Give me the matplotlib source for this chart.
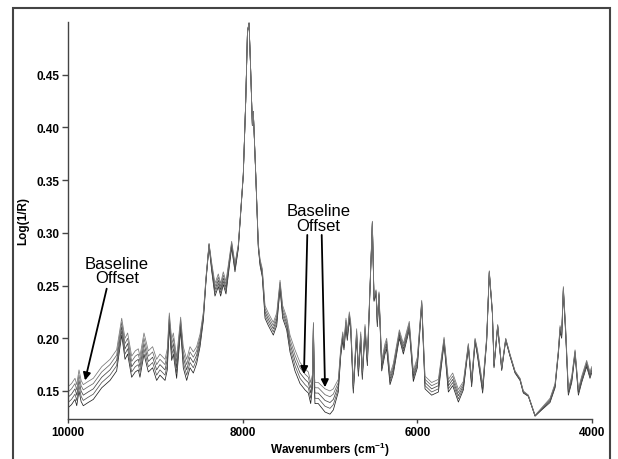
import numpy as np
import matplotlib
matplotlib.use("Agg")
import matplotlib.pyplot as plt
from matplotlib.patches import Rectangle

plt.rcParams['font.family'] = ['Liberation Sans', 'DejaVu Sans']
plt.rcParams['mathtext.fontset'] = 'custom'
plt.rcParams['mathtext.rm'] = 'Liberation Sans:bold'
plt.rcParams['mathtext.default'] = 'rm'

# Wavenumbers (cm-1), base (middle) spectrum Log(1/R), and per-point baseline spread
wavenumbers = [10000, 9960, 9920, 9900, 9874, 9850, 9825, 9770, 9710, 9614, 9519, 9443,
               9385, 9347, 9317, 9271, 9230, 9195, 9176, 9130, 9080, 9031, 8985, 8947,
               8889, 8863, 8840, 8813, 8794, 8756, 8710, 8680, 8641, 8603, 8565, 8527,
               8488, 8450, 8420, 8385, 8355, 8317, 8279, 8252, 8222, 8191, 8126, 8088,
               8050, 8011, 7993, 7965, 7945, 7927, 7910, 7889, 7878, 7850, 7821, 7801,
               7775, 7744, 7706, 7649, 7610, 7572, 7542, 7496, 7458, 7401, 7343, 7286,
               7248, 7221, 7200, 7190, 7180, 7172, 7134, 7057, 7000, 6962, 6905, 6877,
               6854, 6840, 6817, 6802, 6779, 6763, 6733, 6695, 6675, 6648, 6630, 6599,
               6572, 6542, 6515, 6496, 6473, 6458, 6439, 6408, 6370, 6351, 6313, 6275,
               6206, 6160, 6092, 6046, 6000, 5950, 5912, 5836, 5759, 5694, 5645, 5595,
               5530, 5473, 5416, 5378, 5339, 5313, 5252, 5206, 5176, 5141, 5122, 5080,
               5034, 4988, 4939, 4881, 4824, 4786, 4729, 4652, 4576, 4481, 4423, 4385,
               4366, 4347, 4328, 4301, 4271, 4232, 4194, 4156, 4118, 4061, 4023, 4004]

absorbance = [0.144, 0.147, 0.152, 0.146, 0.160, 0.150, 0.146, 0.149, 0.152, 0.163, 0.170, 0.179,
              0.211, 0.190, 0.195, 0.173, 0.178, 0.180, 0.173, 0.195, 0.178, 0.182, 0.170, 0.175,
              0.170, 0.180, 0.218, 0.189, 0.195, 0.172, 0.214, 0.182, 0.170, 0.182, 0.177, 0.184,
              0.198, 0.221, 0.256, 0.289, 0.268, 0.246, 0.255, 0.246, 0.257, 0.248, 0.289, 0.267,
              0.287, 0.333, 0.355, 0.425, 0.491, 0.499, 0.459, 0.402, 0.415, 0.355, 0.288, 0.272,
              0.262, 0.225, 0.218, 0.209, 0.218, 0.251, 0.225, 0.214, 0.195, 0.179, 0.167, 0.161,
              0.158, 0.148, 0.160, 0.213, 0.160, 0.148, 0.148, 0.141, 0.139, 0.142, 0.155, 0.187,
              0.202, 0.193, 0.215, 0.202, 0.221, 0.212, 0.152, 0.205, 0.168, 0.202, 0.165, 0.209,
              0.178, 0.247, 0.310, 0.237, 0.244, 0.215, 0.242, 0.174, 0.190, 0.195, 0.161, 0.171,
              0.204, 0.190, 0.212, 0.164, 0.177, 0.234, 0.158, 0.152, 0.155, 0.198, 0.155, 0.161,
              0.1455, 0.155, 0.193, 0.158, 0.198, 0.187, 0.152, 0.199, 0.263, 0.225, 0.174, 0.212,
              0.171, 0.199, 0.184, 0.168, 0.161, 0.149, 0.1455, 0.1265, 0.133, 0.141, 0.155, 0.187,
              0.209, 0.203, 0.247, 0.206, 0.149, 0.161, 0.187, 0.149, 0.161, 0.176, 0.165, 0.170]

spread = [0.005, 0.005, 0.005, 0.005, 0.005, 0.005, 0.005, 0.005, 0.005, 0.005, 0.005, 0.005,
          0.004, 0.005, 0.005, 0.005, 0.005, 0.005, 0.005, 0.005, 0.005, 0.005, 0.005, 0.005,
          0.005, 0.005, 0.003, 0.005, 0.005, 0.005, 0.003, 0.005, 0.005, 0.005, 0.005, 0.004,
          0.003, 0.002, 0.001, 0.0005, 0.002, 0.003, 0.003, 0.003, 0.003, 0.003, 0.0015, 0.002,
          0.001, 0.0005, 0.0003, 0.0, 0.0, 0.0, 0.0, 0.0, 0.0, 0.0003, 0.001, 0.0015,
          0.002, 0.003, 0.003, 0.003, 0.003, 0.002, 0.003, 0.003, 0.004, 0.005, 0.005, 0.005,
          0.005, 0.005, 0.003, 0.001, 0.003, 0.005, 0.005, 0.0055, 0.0055, 0.005, 0.003, 0.002,
          0.002, 0.002, 0.002, 0.002, 0.002, 0.002, 0.002, 0.002, 0.002, 0.002, 0.002, 0.002,
          0.002, 0.001, 0.0005, 0.001, 0.001, 0.002, 0.001, 0.0025, 0.0025, 0.0025, 0.0025, 0.0025,
          0.002, 0.0025, 0.002, 0.0025, 0.0025, 0.001, 0.003, 0.003, 0.003, 0.0015, 0.003, 0.003,
          0.003, 0.002, 0.001, 0.002, 0.001, 0.0015, 0.002, 0.001, 0.0005, 0.0008, 0.001, 0.0005,
          0.0008, 0.0005, 0.0005, 0.0005, 0.0005, 0.0005, 0.0003, 0.0002, 0.0005, 0.001, 0.001, 0.001,
          0.0015, 0.0015, 0.001, 0.0015, 0.0015, 0.0015, 0.001, 0.0015, 0.0015, 0.0015, 0.0015, 0.0015]

offset_steps = [-2, -1, 0, 1, 2]
line_colors = ['#222222', '#555555', '#444444', '#666666', '#777777']

x_ticks = [10000, 8000, 6000, 4000]
y_ticks = [0.15, 0.20, 0.25, 0.30, 0.35, 0.40, 0.45]

W, H = 618, 460
fig = plt.figure(figsize=(W / 100, H / 100), dpi=100)
ax = fig.add_axes([68 / W, 1 - 420 / H, (592 - 68) / W, (420 - 23) / H])

wn = np.array(wavenumbers)
base = np.array(absorbance)
sp = np.array(spread)
for k, c in zip(offset_steps, line_colors):
    ax.plot(wn, base + k * sp, color=c, lw=0.55)

ax.set_xlim(10000, 4000)
ax.set_ylim(0.1234, 0.5)
ax.set_xticks(x_ticks)
ax.set_xticklabels([str(v) for v in x_ticks])
ax.set_yticks(y_ticks)
ax.set_yticklabels([f"{v:.2f}" for v in y_ticks])
for lab in ax.get_xticklabels() + ax.get_yticklabels():
    lab.set_fontweight('bold')
    lab.set_fontsize(8.5)
ax.tick_params(axis='y', direction='out', length=4, width=1, color='#444444', pad=2)
ax.tick_params(axis='x', direction='out', length=3, width=1, color='#444444', pad=2)
for s in ['top', 'right']:
    ax.spines[s].set_visible(False)
for s in ['left', 'bottom']:
    ax.spines[s].set_color('#444444')
    ax.spines[s].set_linewidth(1.0)

ax.set_xlabel('Wavenumbers (cm$^{-1}$)', fontsize=8.5, fontweight='bold', labelpad=1)
ax.set_ylabel('Log(1/R)', fontsize=8.5, fontweight='bold', labelpad=5)

# annotations
ax.text(9439, 0.264, 'Baseline\nOffset', ha='center', va='center', fontsize=12,
        linespacing=0.95, multialignment='center')
ax.text(7132, 0.314, 'Baseline\nOffset', ha='center', va='center', fontsize=12,
        linespacing=0.95, multialignment='center')
arrow_kw = dict(arrowstyle='-|>', color='black', lw=1.3, mutation_scale=11,
                shrinkA=0, shrinkB=0)
ax.annotate('', xy=(9805, 0.160), xytext=(9557, 0.247), arrowprops=arrow_kw)
ax.annotate('', xy=(7298, 0.166), xytext=(7260, 0.298), arrowprops=arrow_kw)
ax.annotate('', xy=(7057, 0.1535), xytext=(7095, 0.298), arrowprops=arrow_kw)

# outer frame
fig.patches.append(Rectangle((13 / W, -0.02), (610 - 13) / W, (460 - 9) / H + 0.02,
                             transform=fig.transFigure, fill=False,
                             edgecolor='#444444', lw=1.5))

fig.savefig('out.png', dpi=100)
